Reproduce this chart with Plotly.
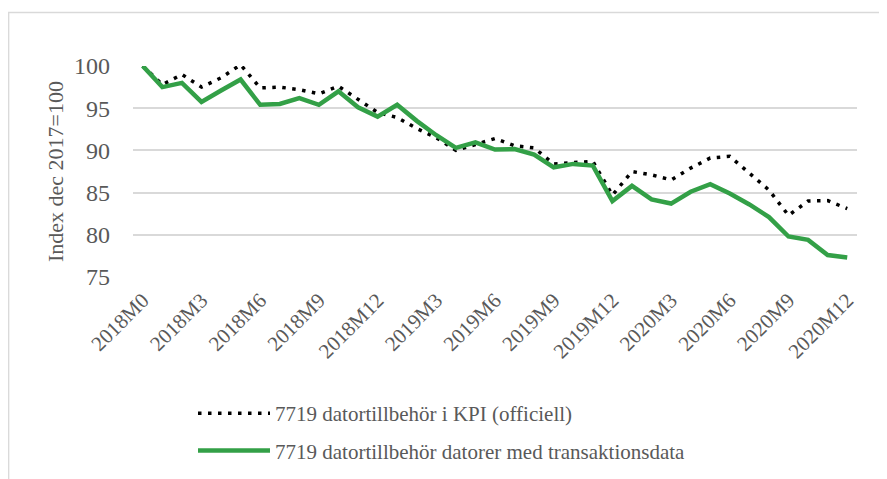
import plotly.graph_objects as go

months = ["2018M0"] + [f"2018M{m}" for m in range(1, 13)] + \
         [f"2019M{m}" for m in range(1, 13)] + [f"2020M{m}" for m in range(1, 13)]

kpi_name = "7719 datortillbehör i KPI (officiell)"
kpi = [100, 97.8, 99.0, 97.5, 98.6, 100.15, 97.4, 97.5, 97.2, 96.7, 97.6, 96.0,
       94.5, 93.9, 92.6, 91.5, 90.0, 90.7, 91.4, 90.55, 90.3, 88.4, 88.5, 88.7,
       84.7, 87.5, 87.1, 86.5, 87.9, 89.1, 89.3, 87.3, 85.3, 82.3, 84.0, 84.05, 83.1]

trans_name = "7719 datortillbehör datorer med transaktionsdata"
trans = [100, 97.5, 98.0, 95.75, 97.1, 98.4, 95.4, 95.5, 96.2, 95.4, 97.0, 95.1,
         94.0, 95.4, 93.5, 91.8, 90.3, 90.95, 90.1, 90.15, 89.5, 88.0, 88.4, 88.2,
         84.0, 85.8, 84.2, 83.7, 85.1, 86.0, 84.9, 83.6, 82.1, 79.8, 79.4, 77.6, 77.3]

tick_labels = months[::3]
y_ticks = [75, 80, 85, 90, 95, 100]
y_title = "Index dec 2017=100"

OFF = 8  # default page body margin
W, H = 887 - OFF, 479 - OFF
L, T = 133 - OFF, 66 - OFF
R = W - (857 - OFF)
B = H - (277 - OFF)
pw, ph = W - L - R, H - T - B

FONT = "'Liberation Serif', 'Times New Roman', 'DejaVu Serif', serif"
GRAY = "#595959"

fig = go.Figure()
fig.add_trace(go.Scatter(
    x=months, y=kpi, name=kpi_name, mode="lines", legendgroup="a",
    line=dict(color="black", width=3.5, dash="3.5px,6.5px"),
))
fig.add_trace(go.Scatter(
    x=months, y=trans, name=trans_name, mode="lines", legendgroup="b",
    line=dict(color="#33a047", width=4.5),
))

def px_x(X):  # figure-pixel -> paper
    return (X - L) / pw

def px_y(Y):
    return (H - B - Y) / ph

fig.add_shape(type="rect", xref="paper", yref="paper",
              x0=px_x(0.7), x1=px_x(W + 10), y0=px_y(4.5), y1=px_y(H + 10),
              line=dict(color="#d9d9d9", width=1.3), fillcolor="rgba(0,0,0,0)",
              layer="below")

fig.update_layout(
    width=W, height=H,
    margin=dict(l=L, r=R, t=T, b=B, autoexpand=False),
    paper_bgcolor="white", plot_bgcolor="white",
    font=dict(family=FONT, color=GRAY, size=19),
    showlegend=True,
    legend=dict(
        orientation="v", x=px_x(185), y=px_y(385), xanchor="left", yanchor="top",
        font=dict(family=FONT, size=21, color=GRAY),
        itemwidth=72, tracegroupgap=7, bgcolor="rgba(0,0,0,0)",
    ),
    xaxis=dict(
        type="category", range=[-0.5, 36.5], automargin=False,
        tickmode="array", tickvals=tick_labels, ticktext=tick_labels,
        tickangle=-45, tickfont=dict(family=FONT, size=21, color=GRAY),
        showgrid=False, showline=False, zeroline=False, ticks="",
        ticklabelstandoff=6,
    ),
    yaxis=dict(
        range=[75, 100], tickvals=y_ticks, automargin=False,
        tickfont=dict(family=FONT, size=24, color=GRAY),
        showgrid=True, gridcolor="#d9d9d9", gridwidth=1.5,
        zeroline=False, showline=False, ticks="",
        ticklabelstandoff=22,
        title=dict(text=y_title, font=dict(family=FONT, size=22, color=GRAY), standoff=4),
    ),
)

fig.write_html("out.html")
